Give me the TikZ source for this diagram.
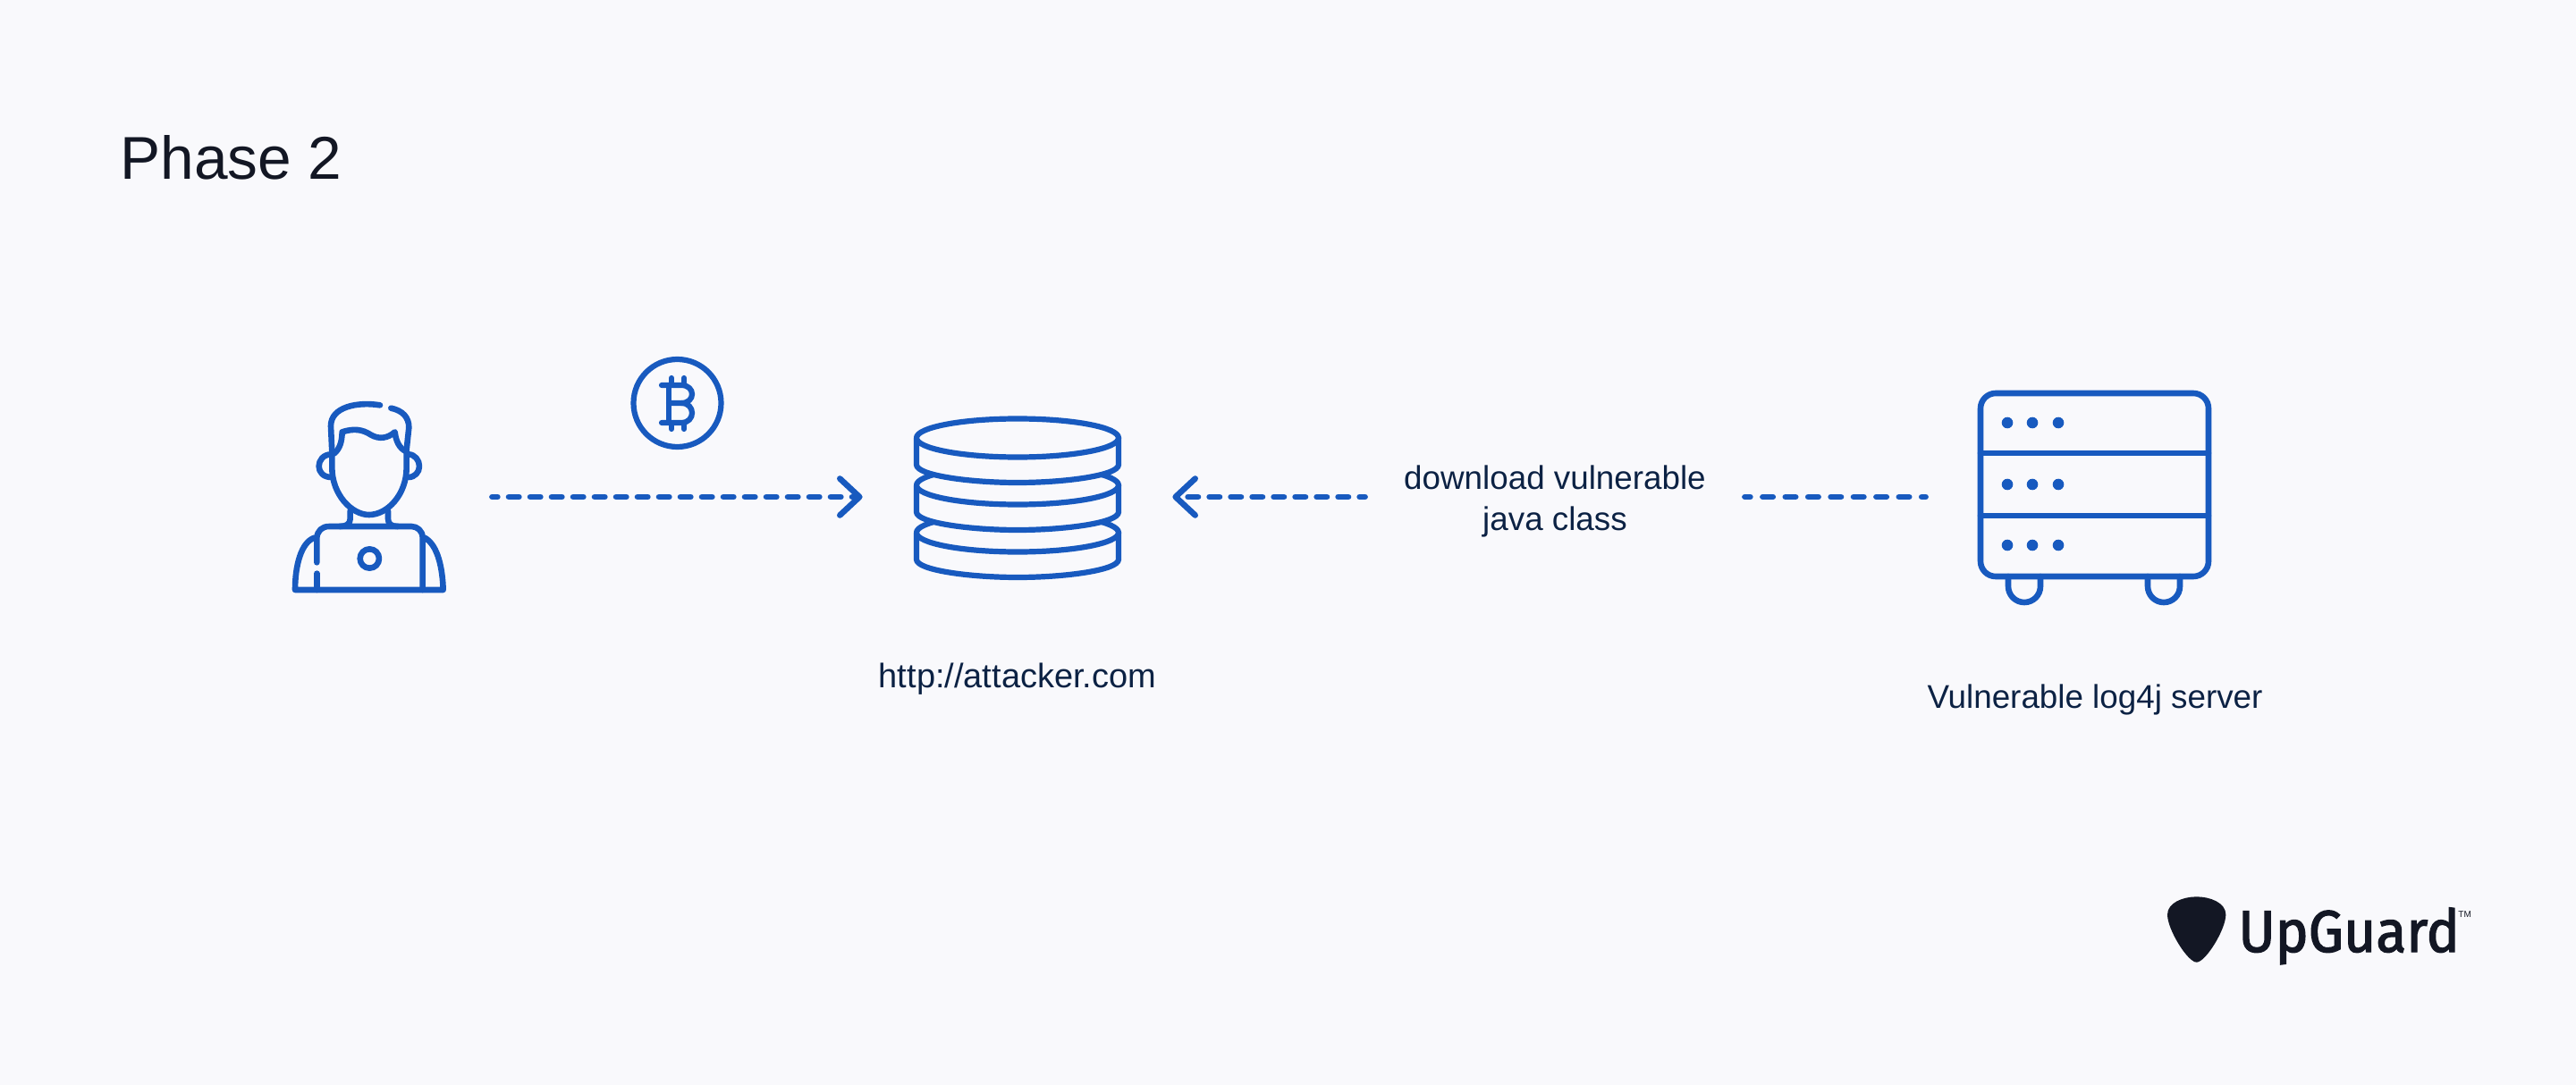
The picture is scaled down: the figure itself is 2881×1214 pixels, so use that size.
\documentclass[tikz,border=0pt]{standalone}
\usepackage{fontspec}
\usetikzlibrary{arrows.meta}
\setmainfont{Liberation Sans}
\newfontfamily\logofont[FakeBold=2, FakeStretch=0.945]{Fira Sans}
\definecolor{pagebg}{HTML}{F9F9FC}
\definecolor{iconblue}{HTML}{185ABF}
\definecolor{inkdark}{HTML}{131724}
\definecolor{inknavy}{HTML}{0C2244}
\tikzset{
  icon/.style={draw=iconblue, line width=3.3pt, line cap=round, line join=round},
  thinicon/.style={draw=iconblue, line width=3.1pt, line cap=round, line join=round},
  slot/.style={inner sep=0pt, minimum height=40pt},
  flow/.style={draw=iconblue, line width=3.3pt, line cap=round, dash pattern=on 5.7pt off 6.3pt, dash phase=2.7pt},
  wideflow/.style={flow, dash pattern=on 5.7pt off 7pt},
  barb/.style={-{Straight Barb[length=11pt, width=20.5pt, round]}},
  caption/.style={text=inknavy, font=\fontsize{18.4}{23}\selectfont, align=center},
}
\begin{document}
\begin{tikzpicture}[x=0.5pt, y=-0.5pt]
        % page
        \fill[pagebg] (0,0) rectangle (2881,1214);
        \useasboundingbox (0,0) rectangle (2881,1214);

        % the title
        \node (title) [anchor=base west, inner sep=0pt, text=inkdark, font=\fontsize{33.8}{40}\selectfont] at (134,201) {Phase 2};

        % places the connectors run between
        \node (attacker) [slot, minimum width=137pt] at (413,556) {};
        \node (stack) [slot, minimum width=173pt] at (1138,556) {};
        \node (server) [slot, minimum width=189pt] at (2343,556) {};
        \node (download) [slot, minimum width=212pt, caption] at (1739,561) {download vulnerable\\java class};

        % the person
        \begin{scope}[shift={(300,420)}, scale=1/3]
            \draw[icon] (375,100) .. controls (300,88) and (210,105) .. (210,170) -- (214,258);
            \draw[icon] (412,110) .. controls (450,118) and (472,140) .. (472,175) -- (464,250);
            \draw[icon] (222,262) .. controls (240,245) and (247,225) .. (248,190) .. controls (285,178) and (315,180) .. (345,200) .. controls (372,215) and (400,212) .. (425,190) .. controls (428,220) and (440,245) .. (462,255);
            \draw[icon] (214,258) -- (214,310) .. controls (214,400) and (280,468) .. (338,468) .. controls (400,468) and (464,400) .. (464,310) -- (464,250);
            \draw[icon] (212,265) .. controls (185,265) and (170,285) .. (170,305) .. controls (170,325) and (185,342) .. (212,342);
            \draw[icon] (470,265) .. controls (492,265) and (507,285) .. (507,305) .. controls (507,325) and (492,342) .. (470,342);
            \draw[icon] (275,455) -- (275,482) .. controls (275,500) and (260,507) .. (240,507);
            \draw[icon] (402,455) -- (402,482) .. controls (402,500) and (415,507) .. (435,507);
            \draw[icon] (163,628) -- (163,545) .. controls (165,522) and (180,507) .. (205,507) -- (480,507) .. controls (500,507) and (518,522) .. (518,545) -- (518,720);
            \draw[icon] (163,665) -- (163,720);
            \draw[icon] (340,615) circle (32);
            \draw[icon] (155,545) .. controls (110,560) and (90,640) .. (90,720) -- (587,720) .. controls (585,650) and (570,570) .. (525,545);
        \end{scope}

        % the coin
        \draw[thinicon] (757.5,451) circle (49);
        \draw[thinicon] (740,431) -- (762,431) .. controls (778,431) and (778,451) .. (762,451) -- (748,451);
        \draw[thinicon] (762,451) .. controls (778,451) and (778,473) .. (762,473) -- (740,473);
        \draw[thinicon] (748,431) -- (748,473);
        \foreach \tickx in {751,765} {
            \draw[thinicon] (\tickx,423) -- (\tickx,431);
            \draw[thinicon] (\tickx,473) -- (\tickx,480);
        }

        % the stack, from the bottom up so that each disk covers the next
        \foreach \cy in {596,543,490} {
            \path[thinicon, fill=pagebg] (1025,\cy) -- (1025,\cy+30) .. controls (1025,\cy+42) and (1085,\cy+50) .. (1138,\cy+50) .. controls (1191,\cy+50) and (1251,\cy+42) .. (1251,\cy+30) -- (1251,\cy) -- cycle;
            \draw[thinicon, fill=pagebg] (1138,\cy) ellipse (113 and 21.5);
        }

        % the server
        \draw[icon, rounded corners=8.5pt] (2215,440) rectangle (2470,645);
        \draw[icon] (2215,507) -- (2470,507);
        \draw[icon] (2215,577) -- (2470,577);
        \foreach \doty in {473,542,610} {
            \foreach \dotx in {2245,2273,2302} {
                \fill[iconblue] (\dotx,\doty) circle (6.3);
            }
        }
        \foreach \footx in {2264,2420} {
            \draw[icon] (\footx-18,645) -- (\footx-18,656) arc[start angle=180, end angle=0, radius=18] -- (\footx+18,645);
        }

        % the connectors
        \draw[flow, barb] (attacker.east) -- (stack.west);
        \draw[flow, barb] (download.west |- stack.east) -- (stack.east);
        \draw[wideflow, dash phase=2.7pt] (download.east |- server.west) -- (server.west);

        % the other texts
        \node (stacklabel) [caption, font=\fontsize{19}{23}\selectfont] at (1138,760) {http://attacker.com};
        \node (serverlabel) [caption] at (2343,783) {Vulnerable log4j server};

        % the logo
        \fill[inkdark, shift={(2400,980)}, scale=1/3] (72,130) .. controls (72,90) and (125,70) .. (170,70) .. controls (215,70) and (268,90) .. (268,130) .. controls (268,180) and (200,290) .. (170,290) .. controls (140,290) and (72,180) .. (72,130) -- cycle;
        \node (logo) [anchor=base west, inner sep=0pt, text=inkdark, font=\logofont\fontsize{33}{40}\selectfont] at (2503,1065) {UpGuard};
        \node (trademark) [anchor=base west, inner sep=0pt, text=inkdark, font=\fontsize{5}{7}\selectfont] at (2749,1026) {TM};
\end{tikzpicture}
\end{document}
